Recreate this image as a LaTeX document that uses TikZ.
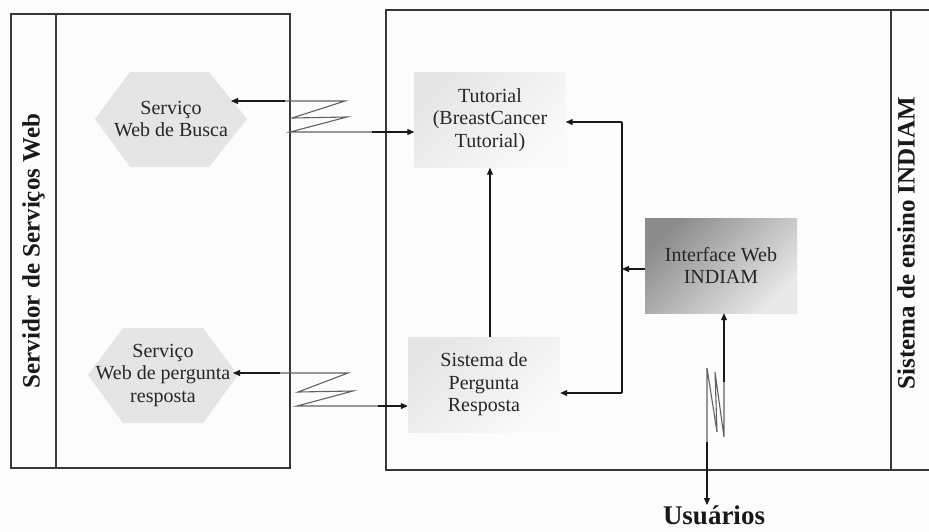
\documentclass[tikz,border=0pt]{standalone}
\usepackage{fontspec}
\setmainfont{Liberation Serif}
\usetikzlibrary{arrows.meta}
\begin{document}
\begin{tikzpicture}[x=1pt,y=-1pt,
  frame/.style={draw=black!78, line width=1.4pt},
  boxtxt/.style={align=center, font=\fontsize{20}{22.5}\selectfont, text=black!85, inner sep=0pt},
  lightbox/.style={boxtxt, minimum width=151pt, minimum height=95pt, left color=black!10, right color=black!2, shading angle=45},
  darkbox/.style={boxtxt, minimum width=152pt, minimum height=95pt, left color=black!45, right color=black!9, shading angle=45},
  hexfill/.style={fill=black!10},
  conn/.style={draw=black!90, line width=1.1pt, -{Triangle[length=7pt,width=6pt]}},
  plain/.style={draw=black!90, line width=1.1pt},
  zig/.style={draw=black!62, line width=1.1pt, line join=miter},
  sidelabel/.style={font=\fontsize{25}{28}\selectfont\bfseries, text=black!90, rotate=90, inner sep=0pt},
  bottomlabel/.style={font=\fontsize{27}{30}\selectfont\bfseries, text=black!90, inner sep=1pt}
]
\fill[black!1] (0,0) rectangle (929,531);
\useasboundingbox (0,0) rectangle (929,531);

% frames
\draw[frame] (11,14) rectangle (290,468);
\draw[frame] (56,14) -- (56,468);
\draw[frame] (386,10) rectangle (945,470);
\draw[frame] (891,10) -- (891,470);

% side labels
\node[sidelabel] (lblL) at (33.5,251) {Servidor de Serviços Web};
\node[sidelabel] (lblR) at (906,243) {Sistema de ensino INDIAM};

% hexagons
\fill[hexfill] (95,119) -- (130,72) -- (209,72) -- (247,119) -- (209,167) -- (130,167) -- cycle;
\node[boxtxt] (hex1) at (171,119) {Serviço\\Web de Busca};
\fill[hexfill] (88,375) -- (123,328) -- (203,328) -- (238,375) -- (203,423) -- (123,423) -- cycle;
\node[boxtxt] (hex2) at (163,375) {Serviço\\Web de pergunta\\resposta};
\coordinate (h1e) at (231,101);
\coordinate (h2e) at (233,373);

% boxes
\node[lightbox] (tut) at (490,120) {Tutorial\\(BreastCancer\\Tutorial)};
\node[lightbox, minimum width=152pt] (sis) at (484,384.5) {Sistema de\\Pergunta\\Resposta};
\node[darkbox] (iface) at (721,265.5) {Interface Web\\INDIAM};
\node[bottomlabel, anchor=north] (users) at (714,505) {Usuários};

% zigzag top
\coordinate (a1) at (285,101);
\coordinate (a2) at (372,132);
\draw[zig] (a1) -- (345,101) -- (292,118) -- (347,117) -- (290,132) -- (a2);
\draw[conn] (a1) -- (h1e);
\draw[conn] (a2) -- (tut.west |- a2);

% zigzag bottom
\coordinate (b1) at (280,373);
\coordinate (b2) at (378,406);
\draw[zig] (b1) -- (348,373) -- (298,392) -- (353,391) -- (297,406) -- (b2);
\draw[conn] (b1) -- (h2e);
\draw[conn] (b2) -- (sis.west |- b2);

% internal connections
\draw[conn] (sis.north -| tut.south) -- (tut.south);
\coordinate (vtop) at (622,122);
\coordinate (vmid) at (622,269);
\coordinate (vbot) at (622,393);
\draw[plain] (vtop) -- (vbot);
\draw[conn] (vtop) -- (tut.east |- vtop);
\draw[conn] (vbot) -- (sis.east |- vbot);
\draw[conn] (iface.west |- vmid) -- (vmid);

% users zigzag
\coordinate (u1) at (724,382);
\coordinate (u2) at (707,442);
\draw[zig] (u2) -- (707,368) -- (717,432) -- (715,372) -- (724,437) -- (u1);
\draw[conn] (u1) -- (iface.south -| u1);
\draw[conn] (u2) -- (u2 |- users.north);
\end{tikzpicture}
\end{document}
